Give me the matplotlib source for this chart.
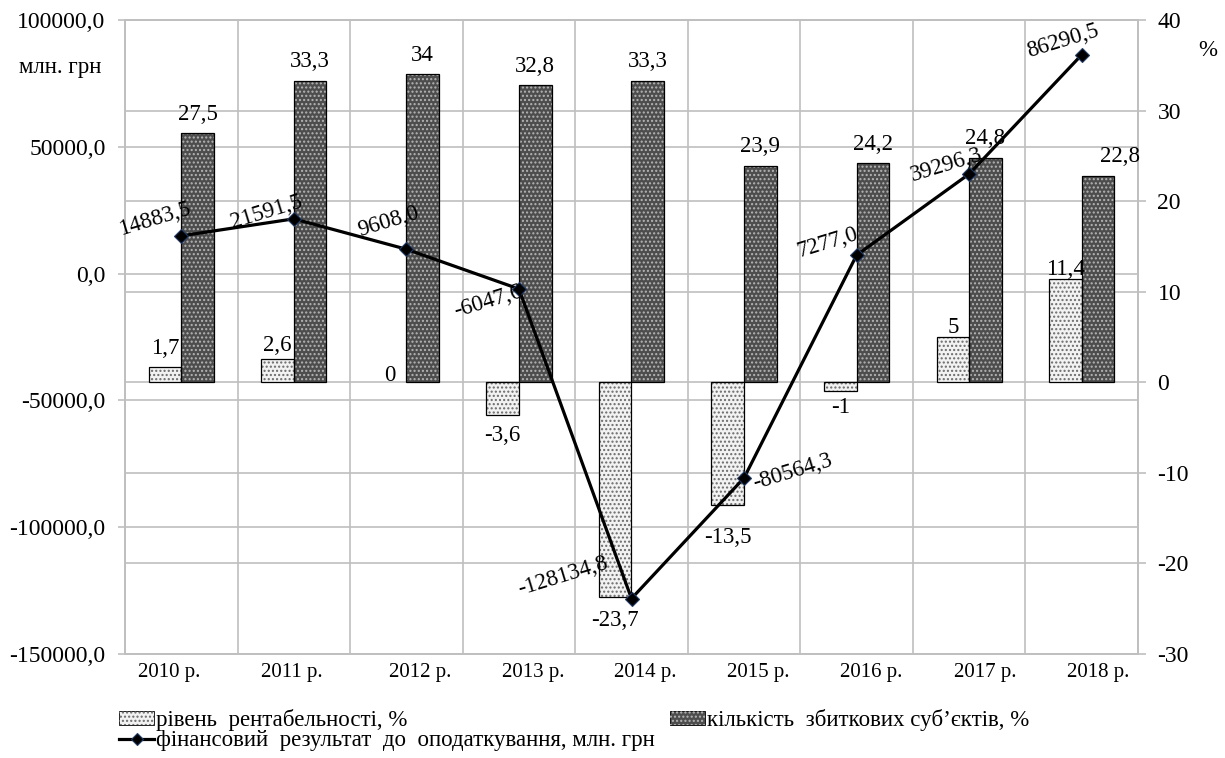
import matplotlib
matplotlib.use('Agg')
import matplotlib.pyplot as plt
import numpy as np
from matplotlib.patches import Patch
from matplotlib.lines import Line2D

plt.rcParams['font.family'] = ['Liberation Serif', 'DejaVu Serif']
plt.rcParams['hatch.linewidth'] = 1.0

# data
years = ['2010 р.', '2011 р.', '2012 р.', '2013 р.', '2014 р.',
         '2015 р.', '2016 р.', '2017 р.', '2018 р.']
profitability = [1.7, 2.6, 0, -3.6, -23.7, -13.5, -1, 5, 11.4]
loss_share = [27.5, 33.3, 34, 32.8, 33.3, 23.9, 24.2, 24.8, 22.8]
fin_result = [14883.5, 21591.5, 9608.0, -6047.6, -128134.8,
              -80564.3, 7277.0, 39296.3, 86290.5]

name_profit = 'рівень  рентабельності, %'
name_loss = 'кількість  збиткових суб’єктів, %'
name_result = 'фінансовий  результат  до  оподаткування, млн. грн'

# label placement (pixels)
result_off = [(-27, 17), (-27, 7), (-18, 28), (-31, -13), (-69, 22),
              (49, 6), (-29, 12), (-23, 9), (-19, 14)]
profit_dy = [18, 13, 7, -21, -24, -33, -16, 9, 10]
loss_off = [(0, 19)] * 8 + [(22, 19)]
year_dx = [-12, -2, 14, 14, 14, 14, 15, 16, 16]

GRID = '#bfbfbf'
LIGHT = '#f2f2f2'
DARK = '#4d4d4d'

def comma(v, fmt):
    return format(v, fmt).replace('.', ',')

W, H = 1225, 758
fig = plt.figure(figsize=(W / 100, H / 100), dpi=100)
ax = fig.add_axes([125 / W, 1 - 654 / H, (1138 - 125) / W, (654 - 20) / H])
ax2 = ax.twinx()
ax3 = ax.twinx()

x = np.arange(len(years))
w = 0.29

# left axis (млн. грн)
ax.set_xlim(-0.5, len(years) - 0.5)
ax.set_ylim(-150000, 100000)
lticks = np.arange(-150000, 100001, 50000)
ax.set_yticks(lticks)
ax.set_yticklabels([comma(v, '.1f') for v in lticks])
ax.set_xticks(x)
ax.set_xticklabels([])
ax.set_xticks(np.arange(-0.5, len(years), 1), minor=True)
ax.grid(axis='y', color=GRID, lw=1.2)
ax.grid(axis='x', which='minor', color=GRID, lw=1.2)
ax.tick_params(axis='y', length=5, color=GRID, width=1.2, labelsize=17, pad=9)
ax.tick_params(axis='x', which='both', length=0)

# right axis (%)
ax2.set_ylim(-30, 40)
rticks = np.arange(-30, 41, 10)
ax2.set_yticks(rticks)
ax2.set_yticklabels([str(v) for v in rticks])
ax2.grid(axis='y', color=GRID, lw=1.2)
ax2.set_axisbelow(True)
ax2.tick_params(axis='y', length=6, color=GRID, width=1.2, labelsize=17, pad=8)

for a in (ax, ax2):
    for s in a.spines.values():
        s.set_color(GRID)
        s.set_linewidth(1.2)

# bars
for pos, vals, fc, hc in ((x - w / 2, profitability, LIGHT, '#6a6a6a'),
                          (x + w / 2, loss_share, DARK, '#b5b5b5')):
    ax2.bar(pos, vals, w, color=fc, lw=0, zorder=2)
    ax2.bar(pos, vals, w, facecolor='none', edgecolor=hc, hatch='....', lw=0, zorder=2.1)
    ax2.bar(pos, vals, w, fill=False, edgecolor='black', zorder=2.2,
            lw=[0.9 if v != 0 else 0 for v in vals])

for xi, v, dy in zip(x - w / 2, profitability, profit_dy):
    ax2.annotate(comma(v, 'g'), (xi, v), xytext=(0, dy), textcoords='offset pixels',
                 ha='center', va='center', fontsize=16.5, zorder=5)
for xi, v, (dx, dy) in zip(x + w / 2, loss_share, loss_off):
    ax2.annotate(comma(v, 'g'), (xi, v), xytext=(dx, dy), textcoords='offset pixels',
                 ha='center', va='center', fontsize=16.5, zorder=5)

# line
ax3.set_ylim(ax.get_ylim())
ax3.axis('off')
ax3.plot(x, fin_result, color='black', lw=2.3, marker='D', ms=7,
         mfc='black', mec='#1f3864', mew=0.8, zorder=3)
for xi, v, (dx, dy) in zip(x, fin_result, result_off):
    ax3.annotate(comma(v, '.1f'), (xi, v), xytext=(dx, dy), textcoords='offset pixels',
                 ha='center', va='center', rotation=17, rotation_mode='anchor',
                 fontsize=16.5, zorder=5)

# category labels
for xi, lab, dx in zip(x, years, year_dx):
    ax.annotate(lab, (xi, 0), xycoords=ax.get_xaxis_transform(),
                xytext=(dx, -18), textcoords='offset pixels',
                ha='center', va='center', fontsize=15, annotation_clip=False)

fig.text(60 / W, 1 - 67 / H, 'млн. грн', ha='center', va='center', fontsize=16.5)
fig.text(1208 / W, 1 - 50 / H, '%', ha='center', va='center', fontsize=16.5)

# legend
h_profit = (Patch(facecolor=LIGHT, edgecolor='black', lw=0.6),
            Patch(facecolor='none', edgecolor='#6a6a6a', hatch='....', lw=0))
h_loss = (Patch(facecolor=DARK, edgecolor='black', lw=0.6),
          Patch(facecolor='none', edgecolor='#b5b5b5', hatch='....', lw=0))
h_result = Line2D([], [], color='black', lw=2.3, marker='D', ms=6,
                  mfc='black', mec='#1f3864', mew=0.8)
fig.legend([h_profit, h_result, h_loss], [name_profit, name_result, name_loss],
           ncol=2, loc='upper left', bbox_to_anchor=(108 / W, 1 - 698 / H),
           frameon=False, fontsize=16.5, borderpad=0, handlelength=1.5,
           handleheight=0.55, handletextpad=0.08, columnspacing=0.7,
           labelspacing=-0.05)

fig.savefig('out.png', dpi=100)
